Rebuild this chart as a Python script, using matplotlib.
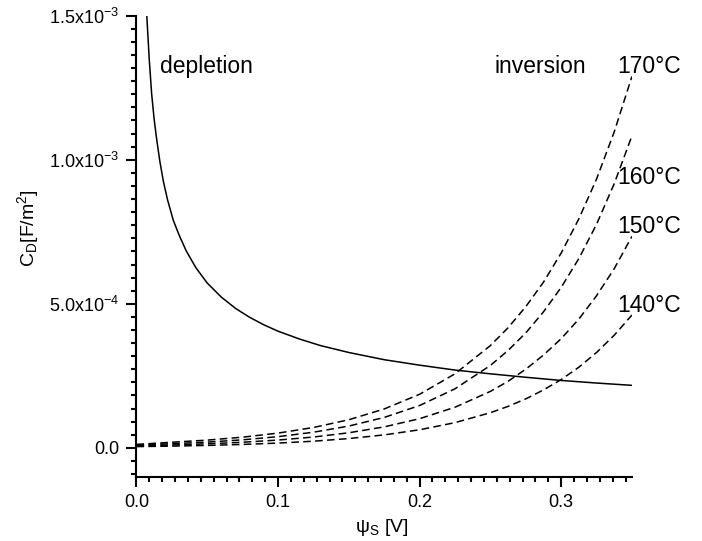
"""
Capacitancia C_D frente a psi_S: rama de vaciamiento (continua) y
ramas de inversión a varias temperaturas (discontinuas).
"""

import matplotlib
matplotlib.use("Agg")
import matplotlib.pyplot as plt
from matplotlib.ticker import AutoMinorLocator

plt.rcParams['font.family'] = ['Liberation Sans', 'DejaVu Sans']
plt.rcParams['mathtext.default'] = 'regular'

# ============================================
# 1. Datos
# ============================================
# Rama de vaciamiento
psi_dep = [0.0073, 0.0090, 0.0107, 0.0125, 0.0143, 0.0165, 0.0190, 0.022,
           0.026, 0.030, 0.035, 0.042, 0.050, 0.060, 0.070, 0.080, 0.090,
           0.100, 0.115, 0.130, 0.150, 0.175, 0.200, 0.225, 0.250, 0.275,
           0.300, 0.325, 0.350]
cd_dep = [1.50e-3, 1.35e-3, 1.23e-3, 1.14e-3, 1.07e-3, 9.95e-4, 9.25e-4,
          8.60e-4, 7.90e-4, 7.40e-4, 6.85e-4, 6.25e-4, 5.72e-4, 5.23e-4,
          4.84e-4, 4.53e-4, 4.27e-4, 4.05e-4, 3.78e-4, 3.55e-4, 3.31e-4,
          3.06e-4, 2.87e-4, 2.70e-4, 2.57e-4, 2.45e-4, 2.34e-4, 2.25e-4,
          2.17e-4]

# Ramas de inversión
psi_inv = [0.0, 0.025, 0.05, 0.075, 0.1, 0.125, 0.15, 0.175, 0.2, 0.225,
           0.25, 0.2625, 0.275, 0.2875, 0.3, 0.3125, 0.325, 0.3375, 0.35]
cd_140 = [4.4e-6, 6.1e-6, 8.5e-6, 1.19e-5, 1.66e-5, 2.31e-5, 3.23e-5,
          4.50e-5, 6.28e-5, 8.75e-5, 1.22e-4, 1.44e-4, 1.70e-4, 2.01e-4,
          2.37e-4, 2.80e-4, 3.31e-4, 3.91e-4, 4.61e-4]
cd_150 = [7.0e-6, 1.0e-5, 1.40e-5, 1.95e-5, 2.71e-5, 3.76e-5, 5.24e-5,
          7.28e-5, 1.013e-4, 1.41e-4, 1.96e-4, 2.31e-4, 2.73e-4, 3.22e-4,
          3.79e-4, 4.47e-4, 5.28e-4, 6.22e-4, 7.34e-4]
cd_160 = [9.5e-6, 1.44e-5, 2.00e-5, 2.79e-5, 3.89e-5, 5.43e-5, 7.57e-5,
          1.056e-4, 1.47e-4, 2.05e-4, 2.86e-4, 3.38e-4, 3.99e-4, 4.72e-4,
          5.57e-4, 6.57e-4, 7.76e-4, 9.17e-4, 1.083e-3]
cd_170 = [1.2e-5, 1.95e-5, 2.69e-5, 3.71e-5, 5.12e-5, 7.07e-5, 9.76e-5,
          1.35e-4, 1.86e-4, 2.57e-4, 3.55e-4, 4.17e-4, 4.90e-4, 5.75e-4,
          6.76e-4, 7.95e-4, 9.33e-4, 1.097e-3, 1.289e-3]

temp_labels = ['170°C', '160°C', '150°C', '140°C']
temp_label_y = [1.3027e-3, 9.175e-4, 7.46e-4, 4.70e-4]

x_ticks = [0.0, 0.1, 0.2, 0.3]
x_ticklabels = ['0.0', '0.1', '0.2', '0.3']
y_ticks = [0.0, 5e-4, 1e-3, 1.5e-3]
y_ticklabels = ['0.0', '5.0x10$^{-4}$', '1.0x10$^{-3}$', '1.5x10$^{-3}$']

# ============================================
# 2. Figura
# ============================================
fig = plt.figure(figsize=(7.02, 5.41), dpi=100)
ax = fig.add_axes([0.1944, 0.1189, 0.7058, 0.8521])

ax.plot(psi_dep, cd_dep, color='black', lw=1.1)
for vals in [cd_140, cd_150, cd_160, cd_170]:
    ax.plot(psi_inv, vals, color='black', lw=1.1, dashes=(5.0, 2.8))

ax.set_xlim(0, 0.35)
ax.set_ylim(-1e-4, 1.5e-3)
ax.set_xticks(x_ticks)
ax.set_xticklabels(x_ticklabels)
ax.set_yticks(y_ticks)
ax.set_yticklabels(y_ticklabels)
ax.xaxis.set_minor_locator(AutoMinorLocator(11))
ax.yaxis.set_minor_locator(AutoMinorLocator(11))

for side in ['top', 'right']:
    ax.spines[side].set_visible(False)
for side in ['left', 'bottom']:
    ax.spines[side].set_linewidth(1.5)

ax.tick_params(which='major', direction='out', length=7.2, width=1.5,
               pad=5, labelsize=13)
ax.tick_params(which='minor', direction='out', length=3.6, width=1.5)

# Etiquetas de ejes
fig.text(28 / 702, 1 - 228 / 541, 'C$_D$[F/m$^2$]', rotation=90,
         ha='center', va='center', fontsize=14)
fig.text(382 / 702, 1 - 527 / 541, 'ψ$_S$ [V]', ha='center', va='center',
         fontsize=14)

# Anotaciones
ax.text(0.0166, 1.3027e-3, 'depletion', ha='left', va='baseline', fontsize=16.5)
ax.text(0.2527, 1.3027e-3, 'inversion', ha='left', va='baseline', fontsize=16.5)
for lab, yy in zip(temp_labels, temp_label_y):
    ax.text(0.3396, yy, lab, ha='left', va='baseline', fontsize=16.5)

fig.savefig('out.png', dpi=100)
